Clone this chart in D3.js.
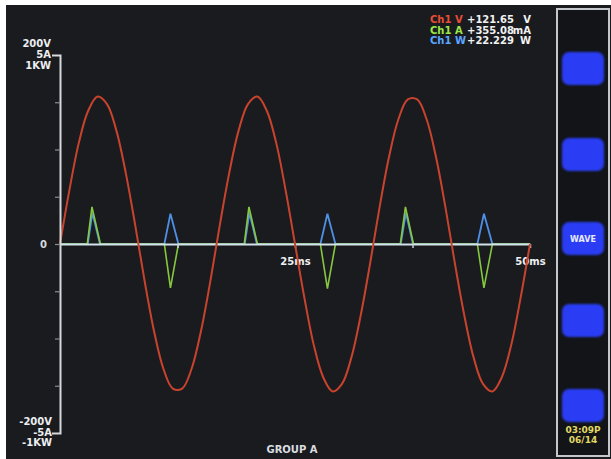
<!DOCTYPE html>
<html>
<head>
<meta charset="utf-8">
<script src="https://cdn.jsdelivr.net/npm/d3@7"></script>
<style>
  html, body { margin: 0; padding: 0; background: #ffffff; }
  svg { display: block; }
  text { font-family: "DejaVu Sans", sans-serif; font-weight: bold; }
</style>
</head>
<body>
<svg id="chart" width="611" height="459"></svg>
<script>
// ---- Data ----
// Voltage trace: time (ms) and volts
const voltageTime = [0,1,2,3,4,5,6,7,8,9,10,11,12,13,14,15,16,17,18,19,20,21,22,23,24,25,
  26,27,28,29,30,31,32,33,34,35,36,37,38,39,40,41,42,43,44,45,46,47,48,49,50];
const voltageValues = [0,57,107,141,156,148,120,75,20,-39,-92,-132,-153,-153,-132,-92,-39,20,75,120,148,156,141,107,57,0,
  -57,-107,-141,-156,-148,-120,-75,-20,39,92,132,153,153,132,92,39,-20,-75,-120,-148,-156,-141,-107,-57,0];

// Current trace: time (ms) and amps
const currentTime = [0,2.9,3.4,4.3,11.1,11.75,12.6,19.6,20.1,21.0,27.7,28.45,29.3,36.2,36.75,37.6,44.4,45.1,46.0,50];
const currentValues = [0,0,0.98,0,0,-1.16,0,0,0.98,0,0,-1.18,0,0,0.98,0,0,-1.16,0,0];

// Power trace: time (ms) and watts
const powerTime = [0,2.95,3.45,4.25,11.1,11.75,12.6,19.65,20.15,20.95,27.7,28.45,29.3,36.25,36.8,37.55,44.4,45.1,46.0,50];
const powerValues = [0,0,165,0,0,160,0,0,165,0,0,160,0,0,165,0,0,160,0,0];

// Axis / labels
const yTickValues = [-150,-100,-50,0,50,100,150];
const xTickValues = [12.5,25,37.5,50];
const xTickLabels = {25: "25ms", 50: "50ms"};
const topScaleLabels = ["200V","5A","1KW"];
const bottomScaleLabels = ["-200V","-5A","-1KW"];
const readoutNames = ["Ch1 V","Ch1 A","Ch1 W"];
const readoutValues = ["+121.65","+355.08","+22.229"];
const readoutUnits = ["V","mA","W"];
const softKeys = ["","","WAVE","",""];
const clockLines = ["03:09P","06/14"];
const footer = "GROUP A";

// ---- Drawing ----
const svg = d3.select("#chart");
const C = {
  bg: "#191b1f", axis: "#d6dade", volt: "#c9432d", amp: "#86c83e", watt: "#4f8fe6",
  key: "#2a3cf4", panel: "#121417", frame: "#c4c8cc", clock: "#e2d866"
};

svg.append("rect").attr("x", 6).attr("y", 5).attr("width", 605).attr("height", 454).attr("fill", C.bg);

const x = d3.scaleLinear().domain([0, 50]).range([60, 530]);
const yV = d3.scaleLinear().domain([-200, 200]).range([433, 55]);
const yA = d3.scaleLinear().domain([-5, 5]).range([433, 55]);
const yW = d3.scaleLinear().domain([-1000, 1000]).range([433, 55]);

const defs = svg.append("defs");
defs.append("filter").attr("id", "soft").append("feGaussianBlur").attr("stdDeviation", 0.5);
defs.append("filter").attr("id", "softer").append("feGaussianBlur").attr("stdDeviation", 1.1);

// Traces
const vData = voltageTime.map((t, i) => [t, voltageValues[i]]);
const aData = currentTime.map((t, i) => [t, currentValues[i]]);
const wData = powerTime.map((t, i) => [t, powerValues[i]]);

svg.append("path").datum(wData)
  .attr("d", d3.line().x(d => x(d[0])).y(d => yW(d[1])))
  .attr("fill", "none").attr("stroke", C.watt).attr("stroke-width", 1.8).attr("filter", "url(#soft)");

svg.append("path").datum(aData)
  .attr("d", d3.line().x(d => x(d[0])).y(d => yA(d[1])))
  .attr("fill", "none").attr("stroke", C.amp).attr("stroke-width", 1.6).attr("filter", "url(#soft)");

// X axis at zero (drawn over the current/power baselines)
const xAxis = d3.axisBottom(x).tickValues(xTickValues).tickSizeInner(4).tickSizeOuter(0)
  .tickPadding(10).tickFormat(d => xTickLabels[d] || "");
const gx = svg.append("g").attr("transform", `translate(0,${yV(0)})`).call(xAxis);
gx.select(".domain").attr("stroke", "#d4e2ec").attr("stroke-width", 2);
gx.selectAll(".tick line").attr("stroke", "#c8d0d8").attr("stroke-width", 1.5);
gx.selectAll(".tick text").attr("fill", "#eef0f2").attr("font-size", 10).attr("font-family", "DejaVu Sans").attr("font-weight", "bold");

svg.append("path").datum(vData)
  .attr("d", d3.line().x(d => x(d[0])).y(d => yV(d[1])).curve(d3.curveCatmullRom))
  .attr("fill", "none").attr("stroke", C.volt).attr("stroke-width", 2).attr("filter", "url(#soft)");

// Y axis
const yAxis = d3.axisLeft(yV).tickValues(yTickValues).tickSizeInner(5).tickSizeOuter(8)
  .tickPadding(8).tickFormat(d => d === 0 ? "0" : "");
const gy = svg.append("g").attr("transform", `translate(${x(0)},0)`).call(yAxis);
gy.select(".domain").attr("stroke", C.axis).attr("stroke-width", 2);
gy.selectAll(".tick line").attr("stroke", "#8a8e92").attr("stroke-width", 1.2);
gy.selectAll(".tick text").attr("fill", C.axis).attr("font-size", 10).attr("font-family", "DejaVu Sans").attr("font-weight", "bold");

// Scale labels
const lab = svg.append("g").attr("fill", "#eceef0").attr("font-size", 10).attr("text-anchor", "end");
topScaleLabels.forEach((s, i) => lab.append("text").attr("x", 51).attr("y", 47 + i * 11).text(s));
bottomScaleLabels.forEach((s, i) => lab.append("text").attr("x", 52).attr("y", 425 + i * 10.5).text(s));

// Readout
const readoutColors = [C.volt, C.amp, C.watt];
const ro = svg.append("g").attr("font-size", 10);
readoutNames.forEach((n, i) => {
  const yy = 23 + i * 10.5;
  ro.append("text").attr("x", 430).attr("y", yy).attr("fill", d3.color(readoutColors[i]).brighter(0.4)).text(n);
  ro.append("text").attr("x", 467).attr("y", yy).attr("fill", "#f2f2f2").text(readoutValues[i]);
  ro.append("text").attr("x", 531).attr("y", yy).attr("text-anchor", "end").attr("fill", "#f2f2f2").text(readoutUnits[i]);
});

// Footer
svg.append("text").attr("x", 292).attr("y", 453).attr("text-anchor", "middle")
  .attr("fill", "#dcdee0").attr("font-size", 10).text(footer);

// Right soft-key panel
svg.append("rect").attr("x", 557).attr("y", 9).attr("width", 52).attr("height", 447)
  .attr("fill", C.panel).attr("stroke", C.frame).attr("stroke-width", 2);
const keyY = [52, 138, 222, 304, 389];
softKeys.forEach((k, i) => {
  svg.append("rect").attr("x", 562).attr("y", keyY[i]).attr("width", 42).attr("height", 33)
    .attr("rx", 7).attr("fill", C.key).attr("filter", "url(#softer)");
  if (k) svg.append("text").attr("x", 583).attr("y", keyY[i] + 20).attr("text-anchor", "middle")
    .attr("fill", "#e8ecff").attr("font-size", 8).text(k);
});
clockLines.forEach((s, i) => svg.append("text").attr("x", 583).attr("y", 433 + i * 10)
  .attr("text-anchor", "middle").attr("fill", C.clock).attr("font-size", 9).text(s));
</script>
</body>
</html>
